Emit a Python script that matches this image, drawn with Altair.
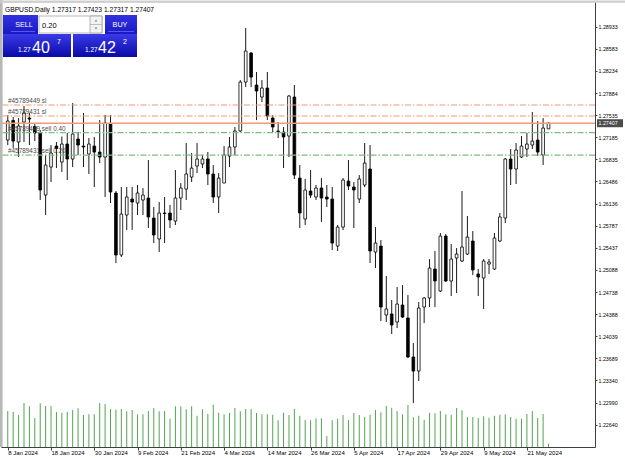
import altair as alt
import pandas as pd

# ---------------- data (GBPUSD, Daily) ----------------
bar_index = list(range(101))  # 0 = 8 Jan 2024 ... 100 = 27 May 2024

open_ = [1.27141, 1.27450, 1.27110, 1.27426, 1.27489, 1.27355, 1.27252, 1.26271, 1.26714, 1.27046,
         1.26793, 1.27078, 1.26841, 1.27157, 1.27046, 1.26920, 1.27046, 1.26951, 1.26872, 1.27394,
         1.26303, 1.25323, 1.25955, 1.26208, 1.26145, 1.26192, 1.26224, 1.25908, 1.25576, 1.25987,
         1.25987, 1.25860, 1.26224, 1.26366, 1.26556, 1.26730, 1.26762, 1.26841, 1.26604, 1.26240,
         1.26461, 1.26888, 1.27031, 1.27284, 1.28058, 1.28517, 1.28011, 1.27821, 1.27964, 1.27489,
         1.27284, 1.27268, 1.27204, 1.27821, 1.26540, 1.25892, 1.26335, 1.26240, 1.26382, 1.26240,
         1.26208, 1.25465, 1.25765, 1.26493, 1.26398, 1.26208, 1.26430, 1.26683, 1.25370, 1.25465,
         1.24374, 1.24390, 1.24263, 1.24532, 1.24327, 1.23710, 1.23488, 1.24500, 1.24643, 1.25101,
         1.24753, 1.25623, 1.24912, 1.25275, 1.25228, 1.25339, 1.25544, 1.25022, 1.24959, 1.25180,
         1.25101, 1.25544, 1.25908, 1.26841, 1.26683, 1.26872, 1.26999, 1.27062, 1.27141, 1.26904,
         1.27317]
high = [1.27537, 1.27505, 1.27489, 1.27679, 1.27568, 1.27394, 1.27299, 1.26904, 1.27062, 1.27110,
        1.27197, 1.27252, 1.27726, 1.27268, 1.27568, 1.27173, 1.27189, 1.27457, 1.27537, 1.27537,
        1.26335, 1.26398, 1.26398, 1.26398, 1.26430, 1.26382, 1.26825, 1.26082, 1.26161, 1.26240,
        1.26113, 1.26667, 1.26461, 1.27094, 1.26936, 1.27094, 1.26904, 1.26951, 1.26746, 1.26619,
        1.27046, 1.27189, 1.27347, 1.28090, 1.28912, 1.28533, 1.28217, 1.28090, 1.28217, 1.27537,
        1.27426, 1.27347, 1.27853, 1.28011, 1.26746, 1.26525, 1.26667, 1.26430, 1.26540, 1.26430,
        1.26398, 1.25797, 1.26540, 1.26825, 1.26477, 1.26588, 1.27094, 1.27062, 1.25765, 1.25560,
        1.24991, 1.24611, 1.24817, 1.24848, 1.24690, 1.23931, 1.24580, 1.24659, 1.25259, 1.25386,
        1.25671, 1.25655, 1.25497, 1.25433, 1.26335, 1.25939, 1.25702, 1.25101, 1.25259, 1.25259,
        1.25671, 1.25987, 1.26857, 1.26999, 1.27094, 1.27204, 1.27257, 1.27584, 1.27442, 1.27489,
        1.27423]
low = [1.27062, 1.27015, 1.26872, 1.27110, 1.27062, 1.27125, 1.26192, 1.25955, 1.26477, 1.26698,
       1.26635, 1.26509, 1.26714, 1.26904, 1.26714, 1.26604, 1.26398, 1.26777, 1.26240, 1.26145,
       1.25196, 1.25291, 1.25718, 1.25718, 1.25955, 1.25955, 1.25750, 1.25512, 1.25370, 1.25512,
       1.25750, 1.25797, 1.26034, 1.26192, 1.26477, 1.26619, 1.26698, 1.26430, 1.26145, 1.25987,
       1.26461, 1.26714, 1.26904, 1.27268, 1.27979, 1.27979, 1.27457, 1.27742, 1.27457, 1.27268,
       1.27173, 1.26698, 1.26872, 1.26525, 1.25750, 1.25797, 1.26224, 1.26192, 1.25845, 1.26082,
       1.25402, 1.25386, 1.25718, 1.26351, 1.25750, 1.26145, 1.26398, 1.25196, 1.25117, 1.24279,
       1.24263, 1.24073, 1.24168, 1.24327, 1.23694, 1.22982, 1.23330, 1.24247, 1.24500, 1.24500,
       1.24738, 1.24896, 1.24674, 1.24722, 1.25212, 1.25323, 1.25006, 1.24674, 1.24469, 1.25022,
       1.25086, 1.25528, 1.25829, 1.26430, 1.26445, 1.26857, 1.26872, 1.26999, 1.26888, 1.26746,
       1.27317]
close = [1.27442, 1.27125, 1.27363, 1.27568, 1.27473, 1.27252, 1.26351, 1.26746, 1.26936, 1.27007,
         1.27078, 1.26841, 1.27236, 1.27062, 1.27031, 1.27078, 1.26951, 1.26872, 1.27410, 1.26319,
         1.25323, 1.25971, 1.26240, 1.26161, 1.26303, 1.26271, 1.25924, 1.25639, 1.25987, 1.25979,
         1.25876, 1.26224, 1.26382, 1.26604, 1.26698, 1.26841, 1.26841, 1.26604, 1.26240, 1.26540,
         1.26904, 1.27031, 1.27284, 1.28058, 1.28549, 1.28137, 1.27916, 1.27964, 1.27521, 1.27347,
         1.27276, 1.27189, 1.27837, 1.26588, 1.25987, 1.26351, 1.26271, 1.26382, 1.26224, 1.26208,
         1.25512, 1.25765, 1.26509, 1.26414, 1.26351, 1.26525, 1.26777, 1.25386, 1.25512, 1.24500,
         1.24469, 1.24216, 1.24548, 1.24342, 1.23710, 1.23488, 1.24485, 1.24643, 1.25117, 1.24912,
         1.25623, 1.24912, 1.25259, 1.25339, 1.25449, 1.25607, 1.25086, 1.24975, 1.25228, 1.25212,
         1.25592, 1.25924, 1.26841, 1.26683, 1.26983, 1.27046, 1.27078, 1.27125, 1.26951, 1.27331,
         1.27407]
# tick volume, thousands
volume = [36, 35, 32, 44, 40.7, 29, 43.7, 41, 41, 35, 34.3, 35, 37, 38.7, 32, 32.7, 32.7, 44, 43, 38,
          37.3, 38, 35.7, 37, 32.7, 32.7, 36, 38.7, 35.7, 36, 28.3, 40.7, 40.7, 37.7, 40.7, 31.3, 37.7,
          33, 42.3, 34.3, 32.7, 34, 39, 35.7, 38, 38, 34, 32.7, 32.7, 32.3, 26.7, 34.3, 32, 38, 31.3,
          27, 26.7, 28.7, 28.7, 11, 26.7, 28.3, 32, 27, 34, 32, 30, 32.3, 37, 34.7, 41, 39.3, 36, 32.7,
          42, 29.7, 31.3, 27.3, 34.3, 33.7, 36, 32.7, 32.3, 39, 36.7, 30, 30, 29, 30.7, 29.3, 31.3,
          32.3, 32.7, 30, 28.3, 28.3, 33, 36, 29, 33, 3.3]

date_tick_index = [0, 8, 16, 24, 32, 40, 48, 56, 64, 72, 80, 88, 96]
date_tick_labels = ["8 Jan 2024", "18 Jan 2024", "30 Jan 2024", "9 Feb 2024", "21 Feb 2024",
                    "4 Mar 2024", "14 Mar 2024", "26 Mar 2024", "5 Apr 2024", "17 Apr 2024",
                    "29 Apr 2024", "9 May 2024", "21 May 2024"]
price_ticks = [1.28933, 1.28583, 1.28234, 1.27884, 1.27535, 1.27185, 1.26835, 1.26486, 1.26136,
               1.25787, 1.25437, 1.25088, 1.24738, 1.24388, 1.24039, 1.23689, 1.23340, 1.22990, 1.22640]

sl_prices = [1.27695, 1.27521]
sl_labels = ["#45789449 sl", "#45789431 sl"]
entry_prices = [1.27257, 1.26904]
entry_labels = ["#45789449 sell 0.40", "#45789431 sell 0.20"]

symbol_title = "GBPUSD,Daily  1.27317 1.27423 1.27317 1.27407"
lot_size = "0.20"
bid_parts = ["1.27", "40", "7"]
ask_parts = ["1.27", "42", "2"]

# ---------------- build ----------------
FONT = "Liberation Sans"
W, H = 594, 445

df = pd.DataFrame({"d": bar_index, "open": open_, "high": high, "low": low,
                   "close": close, "vol": volume})
df["dir"] = ["up" if c >= o else "down" for o, c in zip(open_, close)]

xs = alt.Scale(domain=[-0.327, 107.67], nice=False, zero=False)
ys = alt.Scale(domain=[1.22287, 1.29324], nice=False, zero=False)
vs = alt.Scale(domain=[0, 445], nice=False)

label_expr = "[" + ",".join("'%s'" % s for s in date_tick_labels) + "][round(datum.value / 8)]"
x_axis = alt.Axis(values=date_tick_index, labelExpr=label_expr, title=None, grid=False,
                  domainColor="#404040", tickColor="#404040", tickSize=3, labelFontSize=6,
                  labelFont=FONT, labelAlign="left", labelBaseline="top", labelPadding=-1,
                  labelColor="#000000", labelFlush=False, labelOverlap=False)
y_axis = alt.Axis(orient="right", values=price_ticks, format=".5f", title=None, grid=False,
                  domainColor="#404040", tickColor="#404040", tickSize=2, labelFontSize=5.3,
                  labelFont=FONT, labelPadding=1, labelColor="#000000", labelFlush=False,
                  labelOverlap=False)

X = alt.X("d:Q", scale=xs, axis=x_axis)
Yp = lambda f: alt.Y(f, scale=ys, axis=y_axis)

vol_layer = alt.Chart(df).mark_bar(size=1, color="#52a452").encode(
    x=X, y=alt.Y("vol:Q", scale=vs, axis=None))

wicks = alt.Chart(df).mark_rule(color="#1a1a1a", strokeWidth=1).encode(
    x=X, y=Yp("low:Q"), y2="high:Q")

bodies = alt.Chart(df).mark_bar(size=2.7, stroke="#000000", strokeWidth=0.8).encode(
    x=X, y=Yp("open:Q"), y2="close:Q",
    fill=alt.Fill("dir:N", scale=alt.Scale(domain=["up", "down"], range=["#ffffff", "#000000"]),
                  legend=None))

sl_df = pd.DataFrame({"price": sl_prices, "label": sl_labels})
en_df = pd.DataFrame({"price": entry_prices, "label": entry_labels})

sl_lines = alt.Chart(sl_df).mark_rule(strokeWidth=1.2, strokeDash=[6, 2, 1.5, 2], color="#f39a74").encode(
    y=Yp("price:Q"))
en_lines = alt.Chart(en_df).mark_rule(strokeWidth=1.2, strokeDash=[6, 2, 1.5, 2], color="#7dbd7d").encode(
    y=Yp("price:Q"))
lbl_kw = dict(align="left", baseline="alphabetic", dy=-2, fontSize=6.4, font=FONT, color="#4a4a4a")
sl_text = alt.Chart(sl_df).mark_text(**lbl_kw).encode(x=alt.value(7), y=Yp("price:Q"), text="label:N")
en_text = alt.Chart(en_df).mark_text(**lbl_kw).encode(x=alt.value(7), y=Yp("price:Q"), text="label:N")

cur = pd.DataFrame({"price": [close[-1]], "label": ["%.5f" % close[-1]]})
cur_line = alt.Chart(cur).mark_rule(color="#f29a7a", strokeWidth=1.3).encode(y=Yp("price:Q"))
cur_box = alt.Chart(cur).mark_tick(orient="horizontal", size=26, thickness=8, color="#000000").encode(
    x=alt.value(609), y=Yp("price:Q"))
cur_txt = alt.Chart(cur).mark_text(align="left", baseline="middle", fontSize=5.3, font=FONT,
                                   color="#ffffff").encode(
    x=alt.value(597.5), y=Yp("price:Q"), text="label:N")

one = pd.DataFrame({"k": [0]})


def box(x1, x2, y1, y2, **kw):
    return alt.Chart(one).mark_rect(**kw).encode(
        x=alt.value(x1), x2=alt.value(x2), y=alt.value(y1), y2=alt.value(y2))


def txt(x, y, s, **kw):
    return alt.Chart(one).mark_text(font=FONT, **kw).encode(
        x=alt.value(x), y=alt.value(y), text=alt.value(s))


grad = alt.Gradient(gradient="linear",
                    stops=[alt.GradientStop(color="#3a3ae8", offset=0),
                           alt.GradientStop(color="#0a0aa8", offset=1)],
                    x1=0, x2=0, y1=0, y2=1)
grad_top = alt.Gradient(gradient="linear",
                        stops=[alt.GradientStop(color="#3232e0", offset=0),
                               alt.GradientStop(color="#1a1ac4", offset=1)],
                        x1=0, x2=0, y1=0, y2=1)

panel = [
    box(-1, 1.6, -2, H, color="#b8b8b8"),
    box(-1, 624, -1.5, 0.8, color="#cfcfcf"),
    box(2, 37, 13, 32, color=grad_top),
    box(104, 136, 13, 32, color=grad_top),
    box(2, 70, 32, 55, color=grad),
    box(72, 136, 32, 55, color=grad),
    alt.Chart(one).mark_rule(color="#7070ff", strokeWidth=0.7).encode(
        x=alt.value(10), x2=alt.value(34), y=alt.value(29.5)),
    alt.Chart(one).mark_rule(color="#7070ff", strokeWidth=0.7).encode(
        x=alt.value(107), x2=alt.value(133), y=alt.value(29.5)),
    box(38, 101, 14, 31, color="#ffffff", stroke="#9a9a9a", strokeWidth=0.7),
    box(89, 101, 14, 31, color="#f2f2f2", stroke="#9a9a9a", strokeWidth=0.7),
    alt.Chart(one).mark_rule(color="#9a9a9a", strokeWidth=0.6).encode(
        x=alt.value(89), x2=alt.value(101), y=alt.value(22.5)),
    alt.Chart(one).mark_point(shape="triangle-up", filled=True, size=5, color="#333333").encode(
        x=alt.value(95), y=alt.value(18.5)),
    alt.Chart(one).mark_point(shape="triangle-down", filled=True, size=5, color="#333333").encode(
        x=alt.value(95), y=alt.value(26.5)),
    txt(23, 22.5, "SELL", fontSize=7.2, color="#ffffff", align="center", baseline="middle"),
    txt(119, 22.5, "BUY", fontSize=7.2, color="#ffffff", align="center", baseline="middle"),
    txt(41, 25.5, lot_size, fontSize=7.5, color="#000000", align="left", baseline="alphabetic"),
    txt(17, 50, bid_parts[0], fontSize=6.5, color="#ffffff", align="left", baseline="alphabetic"),
    txt(31, 50.5, bid_parts[1], fontSize=16, color="#ffffff", align="left", baseline="alphabetic"),
    txt(56, 42, bid_parts[2], fontSize=7, color="#ffffff", align="left", baseline="alphabetic"),
    txt(84, 50, ask_parts[0], fontSize=6.5, color="#ffffff", align="left", baseline="alphabetic"),
    txt(97, 50.5, ask_parts[1], fontSize=16, color="#ffffff", align="left", baseline="alphabetic"),
    txt(122, 42, ask_parts[2], fontSize=7, color="#ffffff", align="left", baseline="alphabetic"),
    txt(4, 9.5, symbol_title, fontSize=6.7, color="#000000", align="left", baseline="alphabetic"),
]

price_group = alt.layer(wicks, bodies, sl_lines, en_lines, cur_line, sl_text, en_text,
                        cur_box, cur_txt, *panel)

chart = alt.layer(vol_layer, price_group).resolve_scale(y="independent").properties(
    width=W, height=H, autosize="none",
    padding={"left": 1, "top": 2, "right": 30, "bottom": 11},
).configure_view(stroke=None).configure(background="#ffffff")

chart.save("out.html", embed_options={"renderer": "svg", "actions": False})
